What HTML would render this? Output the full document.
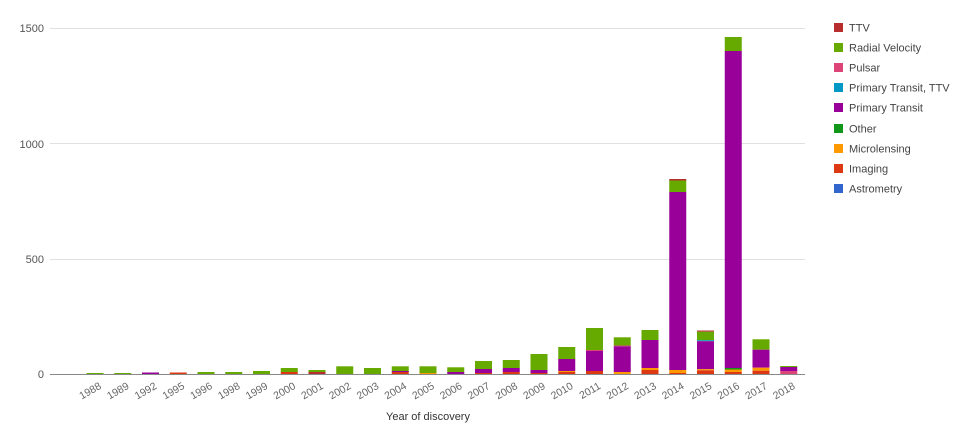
<!DOCTYPE html>
<html><head><meta charset="utf-8"><style>body{margin:0;background:#fff}svg{display:block;font-family:"Liberation Sans",sans-serif}</style></head><body>
<svg width="960" height="444" xmlns="http://www.w3.org/2000/svg">
<g stroke="#e0e0e0" stroke-width="1">
<line x1="50" x2="805" y1="28.5" y2="28.5"/><line x1="50" x2="805" y1="143.5" y2="143.5"/><line x1="50" x2="805" y1="259.5" y2="259.5"/>
</g>
<g font-size="11" fill="#555" text-anchor="end">
<text x="44" y="32">1500</text><text x="44" y="148">1000</text><text x="44" y="263">500</text><text x="44" y="378">0</text>
</g>
<g>
<rect x="86.5" y="373" width="17" height="1" fill="#66aa00"/>
<rect x="114.25" y="373" width="17" height="1" fill="#66aa00"/>
<rect x="142" y="372.5" width="17" height="1.5" fill="#990099"/>
<rect x="169.75" y="372.5" width="17" height="1.5" fill="#dc3912"/>
<rect x="197.5" y="372" width="17" height="2" fill="#66aa00"/>
<rect x="225.25" y="372" width="17" height="2" fill="#66aa00"/>
<rect x="253" y="371" width="17" height="3" fill="#66aa00"/>
<rect x="280.75" y="368" width="17" height="4" fill="#66aa00"/><rect x="280.75" y="372" width="17" height="2" fill="#dc3912"/>
<rect x="308.5" y="370" width="17" height="2" fill="#66aa00"/><rect x="308.5" y="372" width="17" height="2" fill="#b82e2e"/>
<rect x="336.25" y="366.3" width="17" height="7.7" fill="#66aa00"/>
<rect x="364" y="368" width="17" height="6" fill="#66aa00"/>
<rect x="391.75" y="366.3" width="17" height="4.7" fill="#66aa00"/><rect x="391.75" y="371" width="17" height="1" fill="#990099"/><rect x="391.75" y="372" width="17" height="2" fill="#dc3912"/>
<rect x="419.5" y="366.3" width="17" height="6.7" fill="#66aa00"/><rect x="419.5" y="373" width="17" height="1" fill="#ff9900"/>
<rect x="447.25" y="367.3" width="17" height="4.7" fill="#66aa00"/><rect x="447.25" y="372" width="17" height="2" fill="#990099"/>
<rect x="475" y="361" width="17" height="8" fill="#66aa00"/><rect x="475" y="369" width="17" height="4" fill="#990099"/><rect x="475" y="373" width="17" height="1" fill="#dc3912"/>
<rect x="502.75" y="360" width="17" height="8" fill="#66aa00"/><rect x="502.75" y="368" width="17" height="4" fill="#990099"/><rect x="502.75" y="372" width="17" height="2" fill="#dc3912"/>
<rect x="530.5" y="354" width="17" height="16" fill="#66aa00"/><rect x="530.5" y="370" width="17" height="3" fill="#990099"/><rect x="530.5" y="373" width="17" height="1" fill="#dc3912"/>
<rect x="558.25" y="347" width="17" height="12" fill="#66aa00"/><rect x="558.25" y="359" width="17" height="12" fill="#990099"/><rect x="558.25" y="371" width="17" height="1" fill="#ff9900"/><rect x="558.25" y="372" width="17" height="2" fill="#dc3912"/>
<rect x="586" y="328" width="17" height="22" fill="#66aa00"/><rect x="586" y="350" width="17" height="1" fill="#dd4477"/><rect x="586" y="351" width="17" height="20" fill="#990099"/><rect x="586" y="371" width="17" height="3" fill="#dc3912"/>
<rect x="613.75" y="337.3" width="17" height="8.2" fill="#66aa00"/><rect x="613.75" y="345.5" width="17" height="0.8" fill="#dd4477"/><rect x="613.75" y="346.3" width="17" height="25.7" fill="#990099"/><rect x="613.75" y="372" width="17" height="2" fill="#ff9900"/>
<rect x="641.5" y="330" width="17" height="10" fill="#66aa00"/><rect x="641.5" y="340" width="17" height="28" fill="#990099"/><rect x="641.5" y="368" width="17" height="2" fill="#ff9900"/><rect x="641.5" y="370" width="17" height="4" fill="#dc3912"/>
<rect x="669.25" y="179" width="17" height="1.5" fill="#b82e2e"/><rect x="669.25" y="180.5" width="17" height="11.5" fill="#66aa00"/><rect x="669.25" y="192" width="17" height="178" fill="#990099"/><rect x="669.25" y="370" width="17" height="3" fill="#ff9900"/><rect x="669.25" y="373" width="17" height="1" fill="#dc3912"/>
<rect x="697" y="330.5" width="17" height="1.2" fill="#b82e2e"/><rect x="697" y="331.7" width="17" height="8.5" fill="#66aa00"/><rect x="697" y="340.2" width="17" height="1" fill="#0099c6"/><rect x="697" y="341.2" width="17" height="28" fill="#990099"/><rect x="697" y="369.2" width="17" height="1.1" fill="#ff9900"/><rect x="697" y="370.3" width="17" height="3.7" fill="#dc3912"/>
<rect x="724.75" y="37" width="17" height="14" fill="#66aa00"/><rect x="724.75" y="51" width="17" height="317" fill="#990099"/><rect x="724.75" y="368" width="17" height="1.5" fill="#109618"/><rect x="724.75" y="369.5" width="17" height="2.5" fill="#ff9900"/><rect x="724.75" y="372" width="17" height="2" fill="#dc3912"/>
<rect x="752.5" y="339.3" width="17" height="10.4" fill="#66aa00"/><rect x="752.5" y="349.7" width="17" height="18" fill="#990099"/><rect x="752.5" y="367.7" width="17" height="3" fill="#ff9900"/><rect x="752.5" y="370.7" width="17" height="3.3" fill="#dc3912"/>
<rect x="780.25" y="366" width="17" height="1" fill="#66aa00"/><rect x="780.25" y="367" width="17" height="4" fill="#990099"/><rect x="780.25" y="371" width="17" height="3" fill="#dd4477"/>
</g>
<line x1="50" x2="805" y1="374.5" y2="374.5" stroke="#888" stroke-width="1"/>
<g font-size="10.5" fill="#666" text-anchor="end">
<text transform="translate(102,388) rotate(-30)">1988</text>
<text transform="translate(129.75,388) rotate(-30)">1989</text>
<text transform="translate(157.5,388) rotate(-30)">1992</text>
<text transform="translate(185.25,388) rotate(-30)">1995</text>
<text transform="translate(213,388) rotate(-30)">1996</text>
<text transform="translate(240.75,388) rotate(-30)">1998</text>
<text transform="translate(268.5,388) rotate(-30)">1999</text>
<text transform="translate(296.25,388) rotate(-30)">2000</text>
<text transform="translate(324,388) rotate(-30)">2001</text>
<text transform="translate(351.75,388) rotate(-30)">2002</text>
<text transform="translate(379.5,388) rotate(-30)">2003</text>
<text transform="translate(407.25,388) rotate(-30)">2004</text>
<text transform="translate(435,388) rotate(-30)">2005</text>
<text transform="translate(462.75,388) rotate(-30)">2006</text>
<text transform="translate(490.5,388) rotate(-30)">2007</text>
<text transform="translate(518.25,388) rotate(-30)">2008</text>
<text transform="translate(546,388) rotate(-30)">2009</text>
<text transform="translate(573.75,388) rotate(-30)">2010</text>
<text transform="translate(601.5,388) rotate(-30)">2011</text>
<text transform="translate(629.25,388) rotate(-30)">2012</text>
<text transform="translate(657,388) rotate(-30)">2013</text>
<text transform="translate(684.75,388) rotate(-30)">2014</text>
<text transform="translate(712.5,388) rotate(-30)">2015</text>
<text transform="translate(740.25,388) rotate(-30)">2016</text>
<text transform="translate(768,388) rotate(-30)">2017</text>
<text transform="translate(795.75,388) rotate(-30)">2018</text>
</g>
<text x="428" y="420" font-size="11" fill="#333" text-anchor="middle">Year of discovery</text>
<g font-size="11" fill="#444">
<rect x="834" y="23" width="9" height="9" fill="#b82e2e"/><text x="849" y="31.5">TTV</text>
<rect x="834" y="43" width="9" height="9" fill="#66aa00"/><text x="849" y="51.5">Radial Velocity</text>
<rect x="834" y="63" width="9" height="9" fill="#dd4477"/><text x="849" y="71.5">Pulsar</text>
<rect x="834" y="83" width="9" height="9" fill="#0099c6"/><text x="849" y="91.5">Primary Transit, TTV</text>
<rect x="834" y="103" width="9" height="9" fill="#990099"/><text x="849" y="111.5">Primary Transit</text>
<rect x="834" y="124" width="9" height="9" fill="#109618"/><text x="849" y="132.5">Other</text>
<rect x="834" y="144" width="9" height="9" fill="#ff9900"/><text x="849" y="152.5">Microlensing</text>
<rect x="834" y="164" width="9" height="9" fill="#dc3912"/><text x="849" y="172.5">Imaging</text>
<rect x="834" y="184" width="9" height="9" fill="#3366cc"/><text x="849" y="192.5">Astrometry</text>
</g>
</svg>
</body></html>
